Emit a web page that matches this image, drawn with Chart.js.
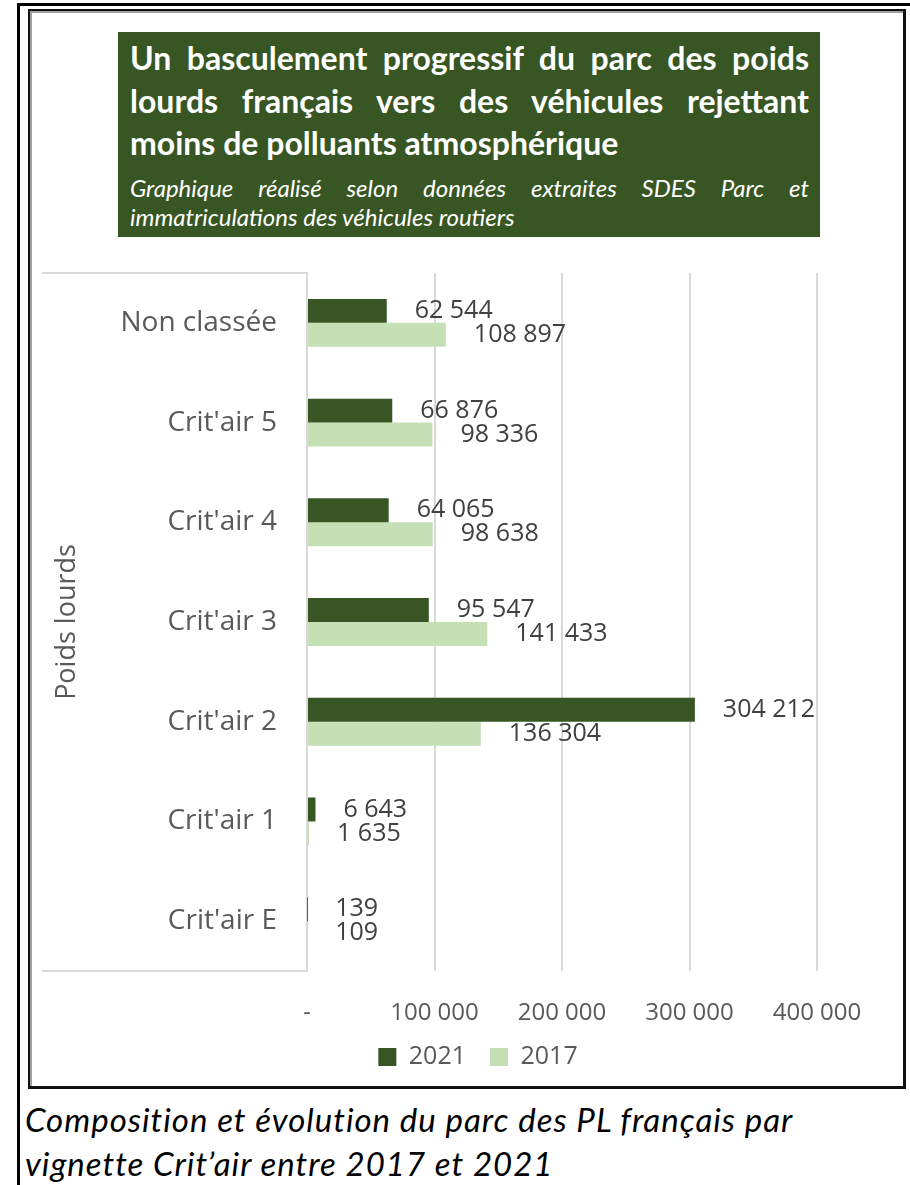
<!DOCTYPE html>
<html><head><meta charset="utf-8">
<script src="https://cdn.jsdelivr.net/npm/chart.js@4/dist/chart.umd.min.js"></script>
<style>
html,body{margin:0;padding:0;background:#fff;}
body{width:910px;height:1185px;position:relative;overflow:hidden;font-family:Lato,"Open Sans",sans-serif;}
.abs{position:absolute;}
#outerTop{left:17px;top:3px;width:893px;height:3px;background:#000;}
#outerLeft{left:17px;top:3px;width:3px;height:1182px;background:#000;}
#frame{left:28px;top:9px;width:878px;height:1080px;box-sizing:border-box;border:2px solid #111;border-right-width:3px;border-bottom-width:3px;box-shadow:inset 2px 2px 0 #a0a0a0;}
#titleBox{left:118px;top:32px;width:702px;height:205px;background:#375623;color:#fff;box-sizing:border-box;padding:5px 11px 0 12px;}
.t{font-weight:bold;font-size:32px;line-height:42.5px;text-align:justify;text-align-last:justify;white-space:nowrap;}
.t.last{text-align:left;text-align-last:left;}
.s{font-style:italic;font-size:24px;line-height:29px;text-align:justify;text-align-last:justify;white-space:nowrap;}
.s.first{margin-top:8px;}
.s.last{text-align:left;text-align-last:left;}
#caption{left:25px;top:1097px;font-style:italic;font-size:33px;letter-spacing:1px;line-height:44px;color:#000;white-space:nowrap;}
#wrap{left:30px;top:240px;width:875px;height:845px;}
</style></head>
<body>
<div class="abs" id="outerTop"></div>
<div class="abs" id="outerLeft"></div>
<div class="abs" id="frame"></div>
<div class="abs" id="titleBox">
  <div class="t">Un basculement progressif du parc des poids</div>
  <div class="t">lourds français vers des véhicules rejettant</div>
  <div class="t last">moins de polluants atmosphérique</div>
  <div class="s first">Graphique réalisé selon données extraites SDES Parc et</div>
  <div class="s last">immatriculations des véhicules routiers</div>
</div>
<div class="abs" id="wrap"><canvas id="c"></canvas></div>
<div class="abs" id="caption">Composition et évolution du parc des PL français par<br>vignette Crit’air entre 2017 et 2021</div>
<script>
const categories = ["Non classée", "Crit'air 5", "Crit'air 4", "Crit'air 3", "Crit'air 2", "Crit'air 1", "Crit'air E"];
const values2021 = [62544, 66876, 64065, 95547, 304212, 6643, 139];
const values2017 = [108897, 98336, 98638, 141433, 136304, 1635, 109];
const seriesNames = ["2021", "2017"];
const axisTitle = "Poids lourds";
const xTickMax = 400000;
const xTickStep = 100000;

function fmt(v){ return String(v).replace(/\B(?=(\d{3})+(?!\d))/g, ' '); }

Chart.defaults.font.family = '"Open Sans", sans-serif';

const catFrame = {
  id: 'catFrame',
  beforeDatasetsDraw(chart){
    const {ctx, chartArea: a} = chart;
    ctx.save();
    ctx.strokeStyle = '#d9d9d9';
    ctx.lineWidth = 2;
    ctx.beginPath();
    ctx.moveTo(12, a.top); ctx.lineTo(a.left, a.top);
    ctx.moveTo(12, a.bottom); ctx.lineTo(a.left, a.bottom);
    ctx.stroke();
    ctx.restore();
  }
};

const valueLabels = {
  id: 'valueLabels',
  afterDatasetsDraw(chart){
    const ctx = chart.ctx;
    ctx.save();
    ctx.font = '25px "Open Sans", sans-serif';
    ctx.fillStyle = '#404040';
    ctx.textBaseline = 'middle';
    ctx.textAlign = 'left';
    chart.data.datasets.forEach((ds, di) => {
      const meta = chart.getDatasetMeta(di);
      meta.data.forEach((bar, i) => {
        ctx.fillText(fmt(ds.data[i]), bar.x + 28, bar.y);
      });
    });
    ctx.restore();
  }
};

new Chart(document.getElementById('c'), {
  type: 'bar',
  data: {
    labels: categories,
    datasets: [
      {label: seriesNames[0], data: values2021, backgroundColor: '#375623', categoryPercentage: 0.48, barPercentage: 1.0},
      {label: seriesNames[1], data: values2017, backgroundColor: '#C5E0B4', categoryPercentage: 0.48, barPercentage: 1.0}
    ]
  },
  options: {
    indexAxis: 'y',
    responsive: true,
    maintainAspectRatio: false,
    animation: false,
    layout: {padding: {top: 33, left: 21, right: 0, bottom: 5.5}},
    plugins: {
      tooltip: {enabled: false},
      legend: {
        position: 'bottom',
        labels: {boxWidth: 18, boxHeight: 18, padding: 24, color: '#595959', font: {size: 25}}
      }
    },
    scales: {
      x: {
        type: 'linear', min: 0, max: xTickMax,
        ticks: {stepSize: xTickStep, color: '#595959', font: {size: 24}, padding: 28,
          callback: v => v === 0 ? '-' : fmt(v)},
        grid: {color: '#d9d9d9', lineWidth: 2, drawTicks: false},
        border: {display: false},
        afterFit(s){ s.height = 49.5; }
      },
      y: {
        ticks: {color: '#595959', font: {size: 28}, padding: 30},
        grid: {display: false, drawTicks: false},
        border: {color: '#d9d9d9', width: 2},
        title: {display: true, text: axisTitle, color: '#595959', font: {size: 27}, padding: 0},
        afterFit(s){ s.width = 256; s.paddingTop = 0; s.paddingBottom = 0; }
      },
      yR: {
        type: 'linear', position: 'right', display: true,
        ticks: {display: false},
        grid: {display: false, drawTicks: false},
        border: {display: false},
        afterFit(s){ s.width = 88; s.paddingTop = 0; s.paddingBottom = 0; }
      }
    }
  },
  plugins: [catFrame, valueLabels]
});
</script>
</body></html>
